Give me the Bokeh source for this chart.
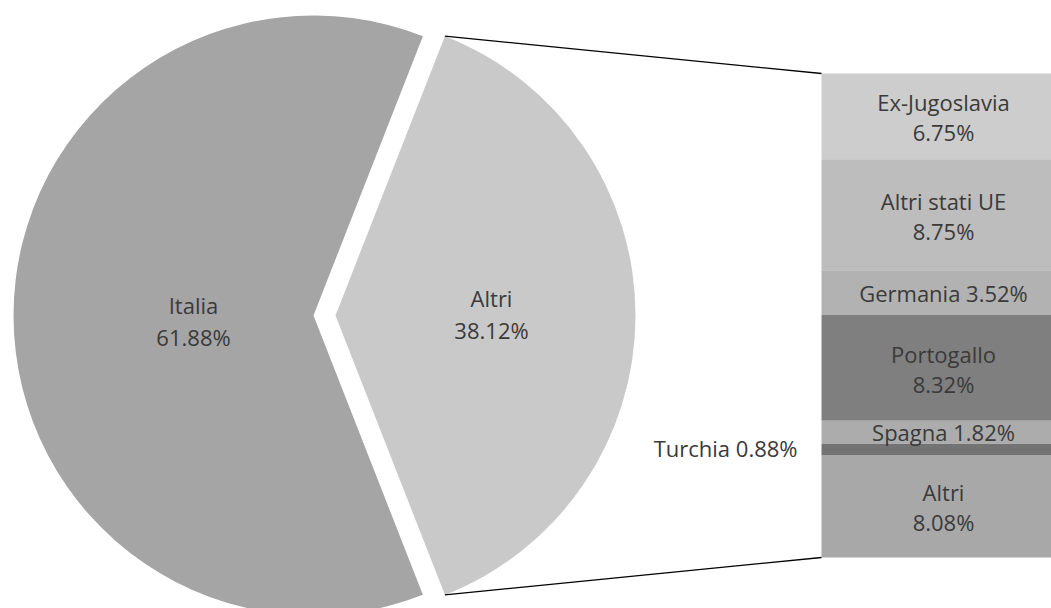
import math
from bokeh.plotting import figure
from bokeh.models import Range1d
from bokeh.core.properties import value
from bokeh.embed import file_html
from bokeh.resources import INLINE

# ---- data ----
pie_labels = ["Italia", "Altri"]
pie_values = [61.88, 38.12]
pie_colors = ["#a5a5a5", "#c9c9c9"]

bar_labels = ["Ex-Jugoslavia", "Altri stati UE", "Germania", "Portogallo", "Spagna", "Turchia", "Altri"]
bar_values = [6.75, 8.75, 3.52, 8.32, 1.82, 0.88, 8.08]
bar_colors = ["#cdcdcd", "#bdbdbd", "#b2b2b2", "#7f7f7f", "#acacac", "#737373", "#a8a8a8"]

FONT = "Open Sans"
FS = "22px"
TXT = "#3a3a3a"

W, H = 1051, 608
p = figure(width=W, height=H, output_backend="svg", toolbar_location=None,
           x_range=Range1d(0, W), y_range=Range1d(0, H), min_border=0)
p.axis.visible = False
p.grid.visible = False
p.outline_line_color = None
p.background_fill_color = "white"

# layout (pixel-like units, y up)
R = 300
cx, cy = 313, 293
explode = 22
bar_left, bar_right = 821, 1066
bar_top, bar_bottom = 535, 51

total = sum(pie_values)
other = pie_values[1]
half = math.pi * other / total  # half-angle of "Altri" slice

# Italia slice
p.wedge(x=cx, y=cy, radius=R, start_angle=half, end_angle=2 * math.pi - half,
        fill_color=pie_colors[0], line_color=None)
# Altri slice (exploded)
ax = cx + explode
p.wedge(x=ax, y=cy, radius=R, start_angle=-half, end_angle=half,
        fill_color=pie_colors[1], line_color=None)

# pie labels
lx = [cx - 0.40 * R, ax + 0.52 * R]
ly = [cy - 5, cy + 2]
p.text(x=lx, y=ly, text=pie_labels, text_align="center", text_baseline="middle",
       y_offset=-16, text_font=value(FONT), text_font_size=FS, text_color=TXT)
p.text(x=lx, y=ly, text=[f"{v:.2f}%" for v in pie_values], text_align="center",
       text_baseline="middle", y_offset=16, text_font=value(FONT), text_font_size=FS, text_color=TXT)

# stacked bar
scale = (bar_top - bar_bottom) / sum(bar_values)
tops, bots = [], []
t = bar_top
for v in bar_values:
    tops.append(t)
    bots.append(t - v * scale)
    t -= v * scale
p.quad(left=bar_left, right=bar_right, top=tops, bottom=bots, fill_color=bar_colors, line_color=None)

# connector lines
tx = ax + R * math.cos(half)
ty_top = cy + R * math.sin(half)
ty_bot = cy - R * math.sin(half)
p.line(x=[tx, bar_left], y=[ty_top, bar_top], line_color="#000000", line_width=1.3)
p.line(x=[tx, bar_left], y=[ty_bot, bar_bottom], line_color="#000000", line_width=1.3)

# bar labels
bcx = 943
mids = [(a + b) / 2 for a, b in zip(tops, bots)]
two_line = [0, 1, 3, 6]
one_line = [2, 4]
p.text(x=[bcx] * len(two_line), y=[mids[i] for i in two_line], text=[bar_labels[i] for i in two_line],
       text_align="center", text_baseline="middle", y_offset=-14,
       text_font=value(FONT), text_font_size=FS, text_color=TXT)
p.text(x=[bcx] * len(two_line), y=[mids[i] for i in two_line],
       text=[f"{bar_values[i]:.2f}%" for i in two_line],
       text_align="center", text_baseline="middle", y_offset=16,
       text_font=value(FONT), text_font_size=FS, text_color=TXT)
p.text(x=[bcx] * len(one_line), y=[mids[i] for i in one_line],
       text=[f"{bar_labels[i]} {bar_values[i]:.2f}%" for i in one_line],
       text_align="center", text_baseline="middle",
       text_font=value(FONT), text_font_size=FS, text_color=TXT)
# Turchia outside label
p.text(x=[bar_left - 24], y=[mids[5]], text=[f"{bar_labels[5]} {bar_values[5]:.2f}%"],
       text_align="right", text_baseline="middle", y_offset=-1,
       text_font=value(FONT), text_font_size=FS, text_color=TXT)

open("out.html", "w").write(file_html(p, INLINE))
